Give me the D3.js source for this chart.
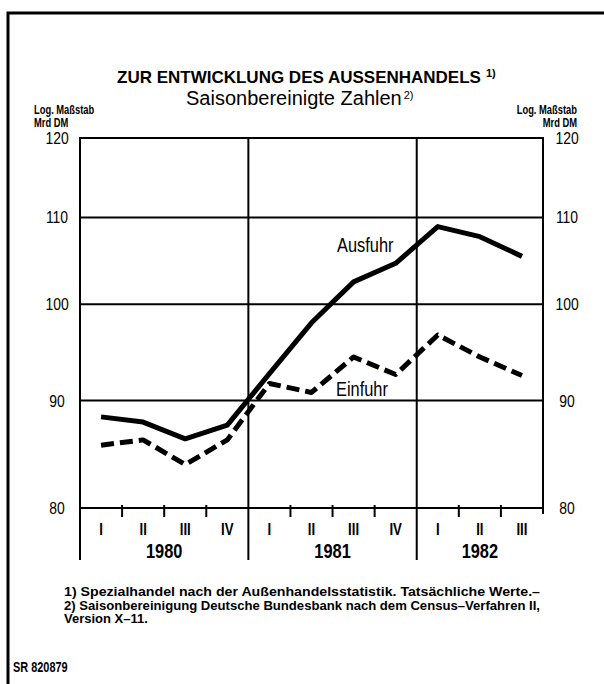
<!DOCTYPE html>
<html>
<head>
<meta charset="UTF-8">
<title>Zur Entwicklung des Aussenhandels</title>
<script src="https://cdnjs.cloudflare.com/ajax/libs/d3/7.8.5/d3.min.js"></script>
<style>
  body { margin: 0; background: #fff; }
  svg { display: block; }
  text { fill: #000; font-family: "Liberation Sans", Arial, sans-serif; }
</style>
</head>
<body>
<svg id="chart" width="604" height="684"></svg>
<script>
// quarters along the x axis
var quarterLabels = ["I", "II", "III", "IV", "I", "II", "III", "IV", "I", "II", "III"];
var years = ["1980", "1981", "1982"];
var quartersPerYear = [4, 4, 3];

// Mrd DM, seasonally adjusted
var ausfuhr = [88.4, 87.9, 86.3, 87.6, 92.7, 98.0, 102.5, 104.6, 108.9, 107.7, 105.4];
var einfuhr = [85.7, 86.2, 83.9, 86.2, 91.7, 90.8, 94.4, 92.6, 96.7, 94.4, 92.5];

var yTicks = [80, 90, 100, 110, 120];

var footnotes = [
    "1) Spezialhandel nach der Außenhandelsstatistik. Tatsächliche Werte.\u2013",
    "2) Saisonbereinigung Deutsche Bundesbank nach dem Census\u2013Verfahren II,",
    "Version X\u201311."
];

// note: "top" is taken by window.top, so use own names
var plotL = 80, plotR = 543, plotT = 138, plotB = 508;
var condensed = 0.78;

var svg = d3.select("#chart");

var x = d3.scaleBand()
    .domain(d3.range(quarterLabels.length))
    .range([plotL, plotR])
    .padding(0);

var y = d3.scaleLog()
    .domain([80, 120])
    .range([plotB, plotT]);

var xc = i => x(i) + x.bandwidth() / 2;

// text squeezed horizontally, the print uses a condensed face
function narrowText(parent, px, py, str, size, weight, anchor, squeeze) {
    return parent.append("text")
        .attr("transform", `translate(${px},${py}) scale(${squeeze || condensed},1)`)
        .attr("text-anchor", anchor || "start")
        .style("font-size", size + "px")
        .style("font-weight", weight || "normal")
        .text(str);
}

// frame of the page
svg.append("path")
    .attr("d", "M8,684 V13 H604")
    .attr("fill", "none")
    .attr("stroke", "#000")
    .attr("stroke-width", 3);

// horizontal grid
svg.append("g")
    .selectAll("line")
    .data(yTicks)
    .enter()
    .append("line")
    .attr("x1", plotL - 1)
    .attr("x2", plotR + 1)
    .attr("y1", d => y(d))
    .attr("y2", d => y(d))
    .attr("stroke", "#000")
    .attr("stroke-width", 2);

// year separators (run down through the labels)
var yearStarts = [0];
quartersPerYear.forEach((n, i) => yearStarts.push(yearStarts[i] + n));

svg.append("g")
    .selectAll("line")
    .data(yearStarts.slice(0, years.length))
    .enter()
    .append("line")
    .attr("x1", d => x(d))
    .attr("x2", d => x(d))
    .attr("y1", plotT - 1)
    .attr("y2", 560)
    .attr("stroke", "#000")
    .attr("stroke-width", 2);

svg.append("line")
    .attr("x1", plotR)
    .attr("x2", plotR)
    .attr("y1", plotT - 1)
    .attr("y2", plotB + 6)
    .attr("stroke", "#000")
    .attr("stroke-width", 2);

// small quarter ticks
svg.append("g")
    .selectAll("line")
    .data(d3.range(1, quarterLabels.length).filter(i => yearStarts.indexOf(i) < 0))
    .enter()
    .append("line")
    .attr("x1", d => x(d))
    .attr("x2", d => x(d))
    .attr("y1", plotB - 3)
    .attr("y2", plotB + 9)
    .attr("stroke", "#000")
    .attr("stroke-width", 2);

// y labels both sides
[57, 567].forEach(function (px) {
    var g = svg.append("g");
    yTicks.forEach(function (d) {
        narrowText(g, px, y(d) + 6, d, 17, "normal", "middle", 0.82);
    });
});

// unit labels
narrowText(svg, 34, 114, "Log. Maßstab", 12, "bold");
narrowText(svg, 34, 127, "Mrd DM", 12, "bold");
narrowText(svg, 577, 114, "Log. Maßstab", 12, "bold", "end");
narrowText(svg, 577, 127, "Mrd DM", 12, "bold", "end");

// quarter labels
var qg = svg.append("g");
quarterLabels.forEach(function (d, i) {
    narrowText(qg, xc(i), 535, d, 17, "bold", "middle");
});

// year labels
var yg = svg.append("g");
years.forEach(function (d, i) {
    var x0 = x(yearStarts[i]);
    var x1 = yearStarts[i + 1] < quarterLabels.length ? x(yearStarts[i + 1]) : plotR;
    narrowText(yg, (x0 + x1) / 2, 558, d, 21, "bold", "middle");
});

// series
var line = d3.line()
    .x((d, i) => xc(i))
    .y(d => y(d));

svg.append("path")
    .datum(ausfuhr)
    .attr("d", line)
    .attr("fill", "none")
    .attr("stroke", "#000")
    .attr("stroke-width", 5)
    .attr("stroke-linejoin", "round");

svg.append("path")
    .datum(einfuhr)
    .attr("d", line)
    .attr("fill", "none")
    .attr("stroke", "#000")
    .attr("stroke-width", 5)
    .attr("stroke-dasharray", "13,6")
    .attr("stroke-linejoin", "round");

narrowText(svg, 337, 252, "Ausfuhr", 21);
narrowText(svg, 336, 396, "Einfuhr", 21);

// title
var title = svg.append("text").attr("x", 117).attr("y", 83)
    .style("font-size", "17px").style("font-weight", "bold");
title.append("tspan").text("ZUR ENTWICKLUNG DES AUSSENHANDELS");
title.append("tspan").attr("dx", 5).attr("dy", -6).style("font-size", "11px").text("1)");

var sub = svg.append("text").attr("x", 186).attr("y", 105)
    .style("font-size", "20px");
sub.append("tspan").text("Saisonbereinigte Zahlen");
sub.append("tspan").attr("dx", 2).attr("dy", -6).style("font-size", "11px").text("2)");

// footnotes, first two lines set to the full measure
var fg = svg.append("g");
footnotes.forEach(function (d, i) {
    var t = fg.append("text")
        .attr("x", 64)
        .attr("y", 596 + i * 13.5)
        .style("font-size", "13px")
        .style("font-weight", "bold")
        .text(d);
    if (i < 2) t.attr("textLength", 476).attr("lengthAdjust", "spacingAndGlyphs");
});

narrowText(svg, 13, 672, "SR 820879", 14, "bold");
</script>
</body>
</html>
